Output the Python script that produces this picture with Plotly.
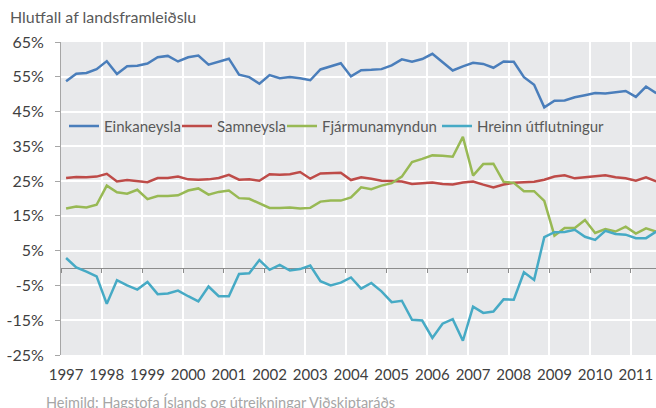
import plotly.graph_objects as go

years = list(range(1997, 2012))
n_quarters = 59  # 1997 Q1 .. 2011 Q3

einkaneysla = [53.7, 55.9, 56.1, 57.2, 59.5, 55.8, 58.0, 58.2, 58.8, 60.6,
               61.0, 59.4, 60.6, 61.1, 58.5, 59.4, 60.2, 55.6, 54.9, 53.0,
               55.5, 54.6, 54.9, 54.6, 54.0, 57.1, 58.0, 58.9, 55.1, 56.9,
               57.0, 57.2, 58.3, 60.0, 59.3, 60.1, 61.6, 59.2, 56.8, 58.0,
               59.0, 58.7, 57.6, 59.4, 59.3, 54.9, 52.7, 46.2, 48.1, 48.2,
               49.1, 49.7, 50.3, 50.2, 50.5, 50.9, 49.2, 52.2, 50.3]
samneysla = [25.9, 26.2, 26.1, 26.3, 27.1, 24.9, 25.3, 25.1, 24.7, 25.9,
             25.9, 26.3, 25.5, 25.4, 25.5, 25.9, 26.8, 25.4, 25.5, 25.1,
             27.0, 26.8, 27.0, 27.6, 25.7, 27.2, 27.2, 27.4, 25.3, 26.1,
             25.7, 25.1, 25.0, 24.9, 24.2, 24.3, 24.6, 24.2, 24.0, 24.6,
             24.9, 24.0, 23.2, 24.0, 24.5, 24.7, 24.8, 25.4, 26.3, 26.7,
             25.8, 26.1, 26.4, 26.7, 26.1, 25.8, 25.1, 26.1, 24.9]
fjarmunamyndun = [17.1, 17.7, 17.4, 18.2, 23.7, 21.8, 21.4, 22.5, 19.8, 20.7,
                  20.7, 20.9, 22.3, 22.9, 21.1, 21.9, 22.3, 20.1, 19.9, 18.5,
                  17.3, 17.3, 17.4, 17.1, 17.3, 19.1, 19.4, 19.4, 20.3, 23.2,
                  22.7, 23.7, 24.4, 26.3, 30.5, 31.4, 32.4, 32.3, 32.0, 37.7,
                  26.6, 29.9, 30.0, 24.8, 24.5, 22.1, 22.1, 19.3, 9.3, 11.5,
                  11.5, 13.8, 10.1, 11.2, 10.5, 11.9, 9.9, 11.4, 10.5]
hreinn_utflutningur = [2.9, 0.2, -1.0, -2.4, -10.3, -3.5, -5.0, -6.2, -4.0, -7.5,
                       -7.3, -6.5, -8.1, -9.6, -5.3, -8.1, -8.1, -1.7, -1.5, 2.3,
                       -0.5, 0.9, -0.7, -0.3, 0.7, -3.8, -5.0, -4.2, -2.7, -5.9,
                       -4.3, -6.7, -9.8, -9.4, -14.9, -15.1, -20.1, -16.0, -14.7, -20.9,
                       -11.1, -12.9, -12.5, -9.0, -9.1, -1.2, -3.4, 8.9, 10.3, 10.4,
                       11.0, 9.0, 8.1, 10.7, 9.8, 9.6, 8.6, 8.6, 10.5]

series_names = ["Einkaneysla", "Samneysla", "Fjármunamyndun", "Hreinn útflutningur"]
series_values = [einkaneysla, samneysla, fjarmunamyndun, hreinn_utflutningur]
series_colors = ["#4a7ebb", "#be4b48", "#98b954", "#46aac5"]

y_ticks = [65, 55, 45, 35, 25, 15, 5, -5, -15, -25]
y_tick_text = [f"{v}%" for v in y_ticks]

# quarters placed in the middle of their category slot
x_q = [1997 + 0.125 + 0.25 * k for k in range(n_quarters)]

FONT = "Lato"
PLOT_W, PLOT_H = 595, 313
PLOT_LEFT = 61  # page pixel of plot's left edge
legend_ids = ["legend", "legend2", "legend3", "legend4"]
legend_px = [64, 177, 282, 437]  # page-pixel left of each legend box

fig = go.Figure()
for i, (name, vals, col) in enumerate(zip(series_names, series_values, series_colors)):
    fig.add_trace(go.Scatter(
        x=x_q, y=vals, mode="lines", name=name,
        line=dict(color=col, width=2.5),
        xaxis="x2" if i == 3 else "x",
        legend=legend_ids[i],
        hoverinfo="skip",
    ))

legend_common = dict(orientation="h", xanchor="left", y=0.731, yanchor="middle",
                     bgcolor="rgba(0,0,0,0)", font=dict(size=15, color="#595959"))
legends = {}
for lid, px in zip(legend_ids, legend_px):
    legends[lid] = dict(x=(px - PLOT_LEFT) / PLOT_W, **legend_common)

fig.update_layout(
    width=656, height=408,
    margin=dict(l=61, r=0, t=42, b=53, autoexpand=False),
    paper_bgcolor="white",
    plot_bgcolor="#e8e9eb",
    font=dict(family=FONT, size=15, color="#404040"),
    showlegend=True,
    **legends,
    xaxis=dict(
        range=[1997, 2011.62],
        tickvals=[y + 0.125 for y in years],
        ticktext=[str(y) for y in years],
        showgrid=False, zeroline=False, showline=False, ticks="",
        tickfont=dict(size=15, color="#404040"),
        ticklabelstandoff=9,
        minor=dict(tick0=1997, dtick=1, showgrid=True, gridcolor="white",
                   gridwidth=1.5, ticks=""),
    ),
    xaxis2=dict(
        matches="x", overlaying="x", anchor="free", position=25 / 90,
        tickvals=years, showticklabels=False, ticks="outside", ticklen=4,
        tickcolor="#8c8c8c", showgrid=False, zeroline=False, showline=False,
    ),
    yaxis=dict(
        range=[-25, 65], tickvals=y_ticks, ticktext=y_tick_text,
        showgrid=True, gridcolor="white", gridwidth=1.5,
        zeroline=True, zerolinecolor="#8c8c8c", zerolinewidth=1.2,
        showline=True, linecolor="#a6a6a6", linewidth=1,
        ticks="outside", ticklen=5, tickcolor="#a6a6a6",
        ticklabelstandoff=8,
        tickfont=dict(size=16, color="#404040"),
    ),
    annotations=[
        dict(text="Hlutfall af landsframleiðslu", xref="paper", yref="paper",
             x=(8 - PLOT_LEFT) / PLOT_W, y=1 + 26 / PLOT_H, xanchor="left", yanchor="middle",
             showarrow=False, font=dict(size=16, color="#595959", family=FONT)),
        dict(text="Heimild: Hagstofa Íslands og útreikningar Viðskiptaráðs",
             xref="paper", yref="paper", x=(44 - PLOT_LEFT) / PLOT_W, y=-36 / PLOT_H,
             xanchor="left", yanchor="top", showarrow=False,
             font=dict(size=14.5, color="#a6a6a6", family=FONT)),
    ],
)

fig.write_html("out.html", config={"displayModeBar": False},
               post_script="document.body.style.margin='0';")
